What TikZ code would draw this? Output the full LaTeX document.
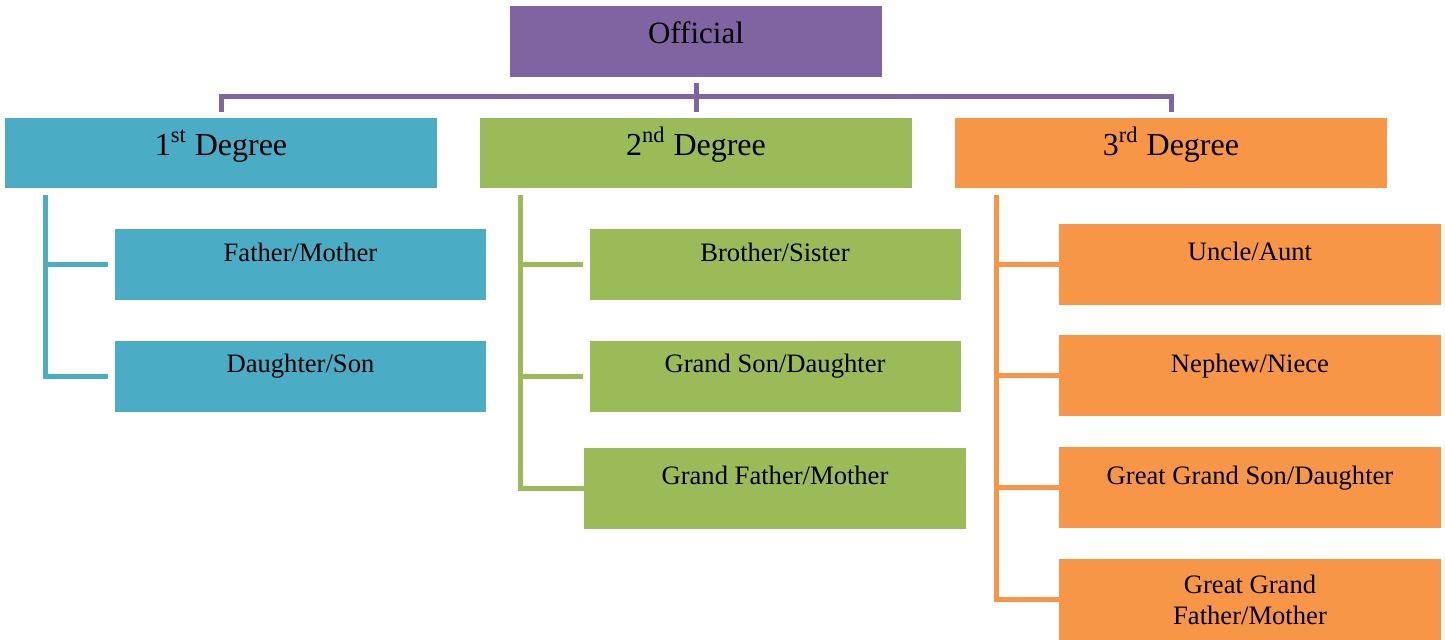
\documentclass[tikz,border=0pt]{standalone}
\usepackage{fontspec}
\setmainfont{Liberation Serif}
\usetikzlibrary{positioning}
\definecolor{offpurple}{HTML}{8064A2}
\definecolor{degblue}{HTML}{4BACC6}
\definecolor{deggreen}{HTML}{9BBB59}
\definecolor{degorange}{HTML}{F79646}
\tikzset{
    box/.style={
        rectangle,
        inner xsep=2pt,
        inner ysep=0pt,
        align=center
    },
    headbox/.style={
        box,
        fill=offpurple,
        minimum width=186pt,
        text height=18.5pt,
        text depth=17pt,
        font=\fontsize{15.5}{18}\selectfont
    },
    degbox/.style={
        box,
        minimum width=216pt,
        text height=18.5pt,
        text depth=16.5pt,
        font=\fontsize{16}{19}\selectfont
    },
    kidbox/.style={
        box,
        minimum width=185.5pt,
        text height=16pt,
        text depth=19.5pt,
        font=\fontsize{13.3}{15.5}\selectfont
    },
    tallkid/.style={
        box,
        minimum width=191pt,
        text height=18.5pt,
        text depth=22pt,
        font=\fontsize{13.3}{15.5}\selectfont
    },
    link/.style={line width=2.5pt}
}
\begin{document}
\begin{tikzpicture}[x=0.5pt, y=-0.5pt]
\useasboundingbox (0,0) rectangle (1445,639);

\node (off) [headbox] at (696,41.5) {Official};

\node (deg1) [degbox, fill=degblue] at (221,153)
{1\textsuperscript{st} Degree};
\node (deg2) [degbox, fill=deggreen] at (696,153)
{2\textsuperscript{nd} Degree};
\node (deg3) [degbox, fill=degorange] at (1171,153)
{3\textsuperscript{rd} Degree};

% 1st degree
\node (father) [kidbox, fill=degblue] at (300.5,264.5) {Father/Mother};
\node (daughter) [kidbox, fill=degblue, below=20pt of father] {Daughter/Son};

% 2nd degree
\node (brother) [kidbox, fill=deggreen] at (775,264.5) {Brother/Sister};
\node (grandson) [kidbox, fill=deggreen, below=20pt of brother]
{Grand Son/Daughter};
\node (grandfather) [tallkid, fill=deggreen, below=17.5pt of grandson]
{Grand Father/Mother};

% 3rd degree
\node (uncle) [tallkid, fill=degorange] at (1250,264) {Uncle/Aunt};
\node (nephew) [tallkid, fill=degorange, below=15pt of uncle] {Nephew/Niece};
\node (ggson) [tallkid, fill=degorange, below=15pt of nephew]
{Great Grand Son/Daughter};
\node (ggfather) [box, fill=degorange, minimum width=191pt, minimum height=40.5pt,
    font=\fontsize{13.3}{15.5}\selectfont, below=15pt of ggson]
{Great Grand\\Father/Mother};

% top bus
\draw [link, offpurple] ([yshift=3pt]deg1.north) -- ++(0,-15) -| ([yshift=3pt]deg3.north);
\draw [link, offpurple] ([yshift=-3pt]off.south) -- ([yshift=3pt]deg2.north);

% spines
\coordinate (sp1) at ([xshift=20.5pt,yshift=-3.5pt]deg1.south west);
\draw [link, degblue] (sp1) |- ([xshift=-3.5pt]daughter.west);
\draw [link, degblue] (sp1 |- father.west) -- ([xshift=-3.5pt]father.west);

\coordinate (sp2) at ([xshift=20.5pt,yshift=-3.5pt]deg2.south west);
\draw [link, deggreen] (sp2) |- (grandfather.west);
\draw [link, deggreen] (sp2 |- brother.west) -- ([xshift=-3pt]brother.west);
\draw [link, deggreen] (sp2 |- grandson.west) -- ([xshift=-3pt]grandson.west);

\coordinate (sp3) at ([xshift=21pt,yshift=-3.5pt]deg3.south west);
\draw [link, degorange] (sp3) |- (ggfather.west);
\draw [link, degorange] (sp3 |- uncle.west) -- (uncle.west);
\draw [link, degorange] (sp3 |- nephew.west) -- (nephew.west);
\draw [link, degorange] (sp3 |- ggson.west) -- (ggson.west);

\end{tikzpicture}
\end{document}
